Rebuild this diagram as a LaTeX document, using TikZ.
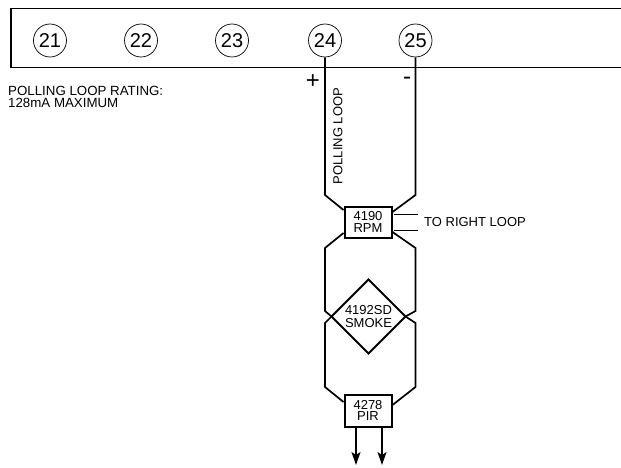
\documentclass[tikz,border=0pt]{standalone}
\usepackage{fontspec}
\setmainfont{Liberation Sans}
\usetikzlibrary{arrows.meta,shapes.geometric}
\tikzset{
  wire/.style={line width=1.7pt,line join=miter},
  thinwire/.style={line width=0.9pt},
  term/.style={circle,draw,line width=0.7pt,minimum size=33pt,inner sep=0pt,font=\fontsize{20}{20}\selectfont},
  dev/.style={rectangle,draw,fill=white,line width=2pt,inner sep=0pt,align=center,font=\fontsize{13}{11.5}\selectfont},
  lbl/.style={inner sep=0pt,font=\fontsize{13.3}{12.2}\selectfont},
  flow/.style={line width=1.7pt,-{Stealth[length=13pt,width=9pt,inset=3pt]}}
}
\begin{document}
\begin{tikzpicture}[x=1pt,y=-1pt]
\useasboundingbox (0,0) rectangle (621,468);
\draw[line width=1.5pt] (621,8.3) -- (11,8.3) -- (11,67.7) -- (621,67.7);
\node[term] (t21) at (50,40.5) {21};
\node[term] (t22) at (141,40.5) {22};
\node[term] (t23) at (232,40.5) {23};
\node[term] (t24) at (325,40.5) {24};
\node[term] (t25) at (415.5,40.5) {25};
\node[lbl,anchor=north west,align=left] (rating) at (8,85.8) {POLLING LOOP RATING:\\128mA MAXIMUM};
\node[inner sep=0pt,font=\fontsize{24}{24}\selectfont] (plus) at (313,82) {+};
\node[inner sep=0pt,font=\fontsize{24}{24}\selectfont] (minus) at (407,81) {-};
\node[inner sep=0pt,rotate=90,font=\fontsize{13}{13}\selectfont] (pl) at (338,136) {POLLING LOOP};
\coordinate (ul) at (325,195);
\coordinate (ur) at (415.5,195);
\coordinate (ml) at (325,248);
\coordinate (mr) at (415.5,248);
\coordinate (dl) at (325,311);
\coordinate (dr) at (415.5,311);
\coordinate (el) at (325,323);
\coordinate (er) at (415.5,323);
\coordinate (fl) at (325,387);
\coordinate (fr) at (415.5,387);
\coordinate (r1) at (418,214);
\coordinate (r2) at (418,230);
\coordinate (a1) at (356,465);
\coordinate (a2) at (382,465);
\node[diamond,draw,fill=white,line width=1.9pt,line join=miter,inner sep=0pt,outer sep=0pt,minimum width=74pt,minimum height=74pt,align=center,font=\fontsize{13}{13}\selectfont] (smoke) at (368.5,316.5) {4192SD\\SMOKE};
\node[dev,minimum width=47pt,minimum height=31pt] (rpm) at (368,222) {4190\\RPM};
\node[dev,minimum width=47pt,minimum height=32pt] (pir) at (368,410.5) {4278\\PIR};
\draw[wire] (t24.south) -- (ul) -- (rpm.west |- 0,210);
\draw[wire] (t25.south) -- (ur) -- (rpm.east |- 0,212);
\draw[wire] (rpm.west |- 0,233) -- (ml) -- (dl) -- (smoke.west);
\draw[wire] (rpm.east |- 0,232) -- (mr) -- (dr) -- (smoke.east);
\draw[wire] (smoke.west) -- (el) -- (fl) -- (pir.west |- 0,402);
\draw[wire] (smoke.east) -- (er) -- (fr) -- (pir.east |- 0,405);
\draw[thinwire] (rpm.east |- r1) ++(1,0) -- (r1);
\draw[thinwire] (rpm.east |- r2) ++(1,0) -- (r2);
\node[inner sep=0pt,anchor=west,font=\fontsize{13}{13}\selectfont] (right) at (424,222.5) {TO RIGHT LOOP};
\draw[flow] (pir.south -| a1) -- (a1);
\draw[flow] (pir.south -| a2) -- (a2);
\end{tikzpicture}
\end{document}
